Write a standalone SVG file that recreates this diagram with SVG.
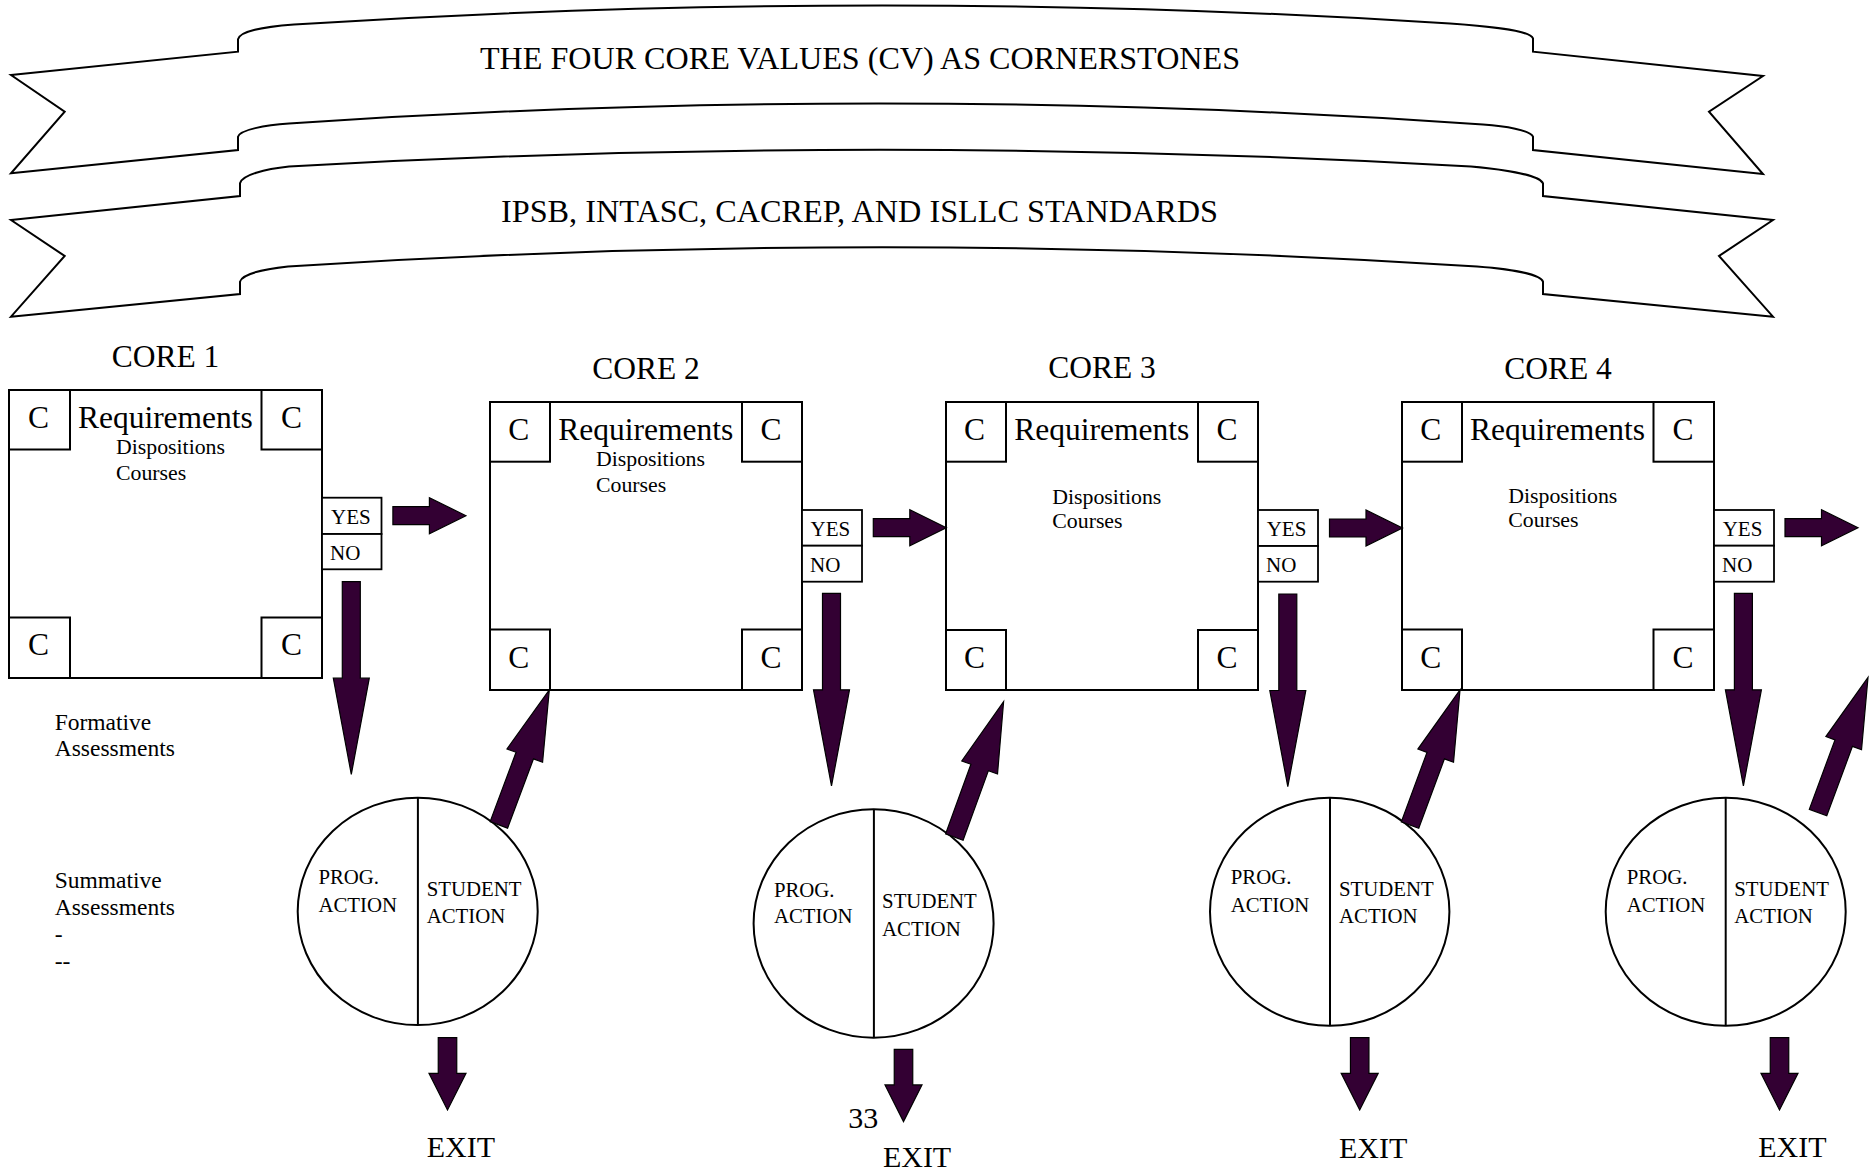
<svg xmlns="http://www.w3.org/2000/svg" xmlns:xlink="http://www.w3.org/1999/xlink" width="1873" height="1172" viewBox="0 0 1873 1172">
<style>
.bg{fill:#fff}
.ban{fill:#fff;stroke:#000;stroke-width:2;stroke-linejoin:miter}
.box{fill:#fff;stroke:#000;stroke-width:2}
.sq{fill:none;stroke:#000;stroke-width:2}
.yn{fill:#fff;stroke:#000;stroke-width:1.8}
.cir{fill:#fff;stroke:#000;stroke-width:2}
.div{stroke:#000;stroke-width:2}
.arr{fill:#330033;stroke:#000;stroke-width:1.2;stroke-linejoin:miter}
text{font-family:"Liberation Serif","Times New Roman",serif;fill:#000}
.bt{font-size:31.7px}
.big{font-size:31.5px}
.sm{font-size:21.8px}
.ynt{font-size:21px}
.ct{font-size:20.8px}
.side{font-size:23.5px}
.ex{font-size:30px}
</style>
<defs>
<polygon id="upArrow" class="arr" points="0,0 19,70 9.3,70 9.3,144 -9.3,144 -9.3,70 -19,70"/>
<polygon id="noArrow" class="arr" points="-9,0 9,0 9,96.5 18,96.5 0,192.7 -18,96.5 -9,96.5"/>
<polygon id="yesArrow" class="arr" points="0,-9 36.5,-9 36.5,-18 73,0 36.5,18 36.5,9 0,9"/>
<polygon id="exitArrow" class="arr" points="-9.25,0 9.25,0 9.25,35.6 18.5,35.6 0,72.3 -18.5,35.6 -9.25,35.6"/>
</defs>
<rect class="bg" x="0" y="0" width="1873" height="1172"/>

<g id="banner-core-values">
<path class="ban" d="M 11,75 L 238,51.7 L 238,39.3 C 240,31 262,27 294,24.5 Q 877,-13 1450,23.5 C 1500,27 1530,31 1533,38.3 L 1533,51.7 L 1763,76 L 1709,111.7 L 1763,174 L 1533,150 L 1533,136.7 C 1530,130 1505,126 1483,124.5 Q 886,83 289,123.5 C 265,125 240,130 238,136.7 L 238,150 L 11,173.3 L 64.7,111.7 Z"/>
<text class="bt" x="480" y="69" textLength="760" lengthAdjust="spacingAndGlyphs">THE FOUR CORE VALUES (CV) AS CORNERSTONES</text>
</g>

<g id="banner-standards">
<path class="ban" d="M 11,220 L 240,196 L 240,183.3 C 242,175 265,169 289,166.5 Q 880,133 1471,166.5 C 1510,170 1540,176 1543,183.3 L 1543,196 L 1773,220 L 1719,256 L 1773,316.7 L 1543,294 L 1543,281.7 C 1540,274 1510,269 1477,266.5 Q 882,228 288,266.5 C 265,269 242,274 240,281.7 L 240,294 L 11,316.7 L 64.7,256 Z"/>
<text class="bt" x="501" y="221.7" textLength="717" lengthAdjust="spacingAndGlyphs">IPSB, INTASC, CACREP, AND ISLLC STANDARDS</text>
</g>

<g id="core1">
<text class="big" x="165.5" y="366.7" text-anchor="middle">CORE 1</text>
<rect class="box" x="9" y="390" width="313" height="288"/>
<rect class="sq" x="9" y="390" width="61" height="59.5"/>
<rect class="sq" x="261.5" y="390" width="60.5" height="59.5"/>
<rect class="sq" x="9" y="617.5" width="61" height="60.5"/>
<rect class="sq" x="261.5" y="617.5" width="60.5" height="60.5"/>
<text class="big" x="38.5" y="428" text-anchor="middle">C</text>
<text class="big" x="291.5" y="428" text-anchor="middle">C</text>
<text class="big" x="38.5" y="655" text-anchor="middle">C</text>
<text class="big" x="291.5" y="655" text-anchor="middle">C</text>
<text class="big" x="77.9" y="428">Requirements</text>
<text class="sm" x="116" y="454.3">Dispositions</text>
<text class="sm" x="116" y="480">Courses</text>
<rect class="yn" x="322" y="497.7" width="59.5" height="36.3"/>
<rect class="yn" x="322" y="534" width="59.5" height="35.3"/>
<text class="ynt" x="331" y="524.3">YES</text>
<text class="ynt" x="330" y="560">NO</text>
</g>

<g id="core2">
<text class="big" x="646" y="378.5" text-anchor="middle">CORE 2</text>
<rect class="box" x="490" y="402" width="312" height="288"/>
<rect class="sq" x="490" y="402" width="60" height="59.7"/>
<rect class="sq" x="742" y="402" width="60" height="59.7"/>
<rect class="sq" x="490" y="629.5" width="60" height="60.5"/>
<rect class="sq" x="742" y="629.5" width="60" height="60.5"/>
<text class="big" x="518.8" y="440" text-anchor="middle">C</text>
<text class="big" x="771" y="440" text-anchor="middle">C</text>
<text class="big" x="518.8" y="668" text-anchor="middle">C</text>
<text class="big" x="771" y="668" text-anchor="middle">C</text>
<text class="big" x="558.3" y="440">Requirements</text>
<text class="sm" x="596" y="466">Dispositions</text>
<text class="sm" x="596" y="491.7">Courses</text>
<rect class="yn" x="802" y="510" width="60" height="35.7"/>
<rect class="yn" x="802" y="545.7" width="60" height="36"/>
<text class="ynt" x="810.5" y="536">YES</text>
<text class="ynt" x="810" y="571.7">NO</text>
</g>

<g id="core3">
<text class="big" x="1102" y="378.3" text-anchor="middle">CORE 3</text>
<rect class="box" x="946" y="402" width="312" height="288"/>
<rect class="sq" x="946" y="402" width="60" height="59.7"/>
<rect class="sq" x="1198" y="402" width="60" height="59.7"/>
<rect class="sq" x="946" y="630" width="60" height="60"/>
<rect class="sq" x="1198" y="630" width="60" height="60"/>
<text class="big" x="974.6" y="440" text-anchor="middle">C</text>
<text class="big" x="1227" y="440" text-anchor="middle">C</text>
<text class="big" x="974.6" y="668" text-anchor="middle">C</text>
<text class="big" x="1227" y="668" text-anchor="middle">C</text>
<text class="big" x="1014.3" y="440">Requirements</text>
<text class="sm" x="1052.3" y="504">Dispositions</text>
<text class="sm" x="1052.3" y="527.7">Courses</text>
<rect class="yn" x="1258" y="510" width="60" height="36"/>
<rect class="yn" x="1258" y="546" width="60" height="35.7"/>
<text class="ynt" x="1266.7" y="536">YES</text>
<text class="ynt" x="1266" y="571.7">NO</text>
</g>

<g id="core4">
<text class="big" x="1558" y="378.5" text-anchor="middle">CORE 4</text>
<rect class="box" x="1402" y="402" width="312" height="288"/>
<rect class="sq" x="1402" y="402" width="60" height="59.7"/>
<rect class="sq" x="1653.5" y="402" width="60.5" height="59.7"/>
<rect class="sq" x="1402" y="629.5" width="60" height="60.5"/>
<rect class="sq" x="1653.5" y="629.5" width="60.5" height="60.5"/>
<text class="big" x="1430.8" y="440" text-anchor="middle">C</text>
<text class="big" x="1683" y="440" text-anchor="middle">C</text>
<text class="big" x="1430.8" y="668" text-anchor="middle">C</text>
<text class="big" x="1683" y="668" text-anchor="middle">C</text>
<text class="big" x="1470" y="440">Requirements</text>
<text class="sm" x="1508.3" y="503.3">Dispositions</text>
<text class="sm" x="1508.3" y="526.7">Courses</text>
<rect class="yn" x="1714" y="510" width="60" height="35.7"/>
<rect class="yn" x="1714" y="545.7" width="60" height="36"/>
<text class="ynt" x="1722.7" y="536">YES</text>
<text class="ynt" x="1722" y="571.7">NO</text>
</g>

<g id="assessment-labels">
<text class="side" x="54.7" y="730">Formative</text>
<text class="side" x="54.7" y="755.7">Assessments</text>
<text class="side" x="54.7" y="888.3">Summative</text>
<text class="side" x="54.7" y="915">Assessments</text>
<text class="side" x="54.7" y="941.5">-</text>
<text class="side" x="54.7" y="969">--</text>
</g>

<g id="action1">
<ellipse class="cir" cx="417.7" cy="911.4" rx="120" ry="113.7"/>
<line class="div" x1="417.9" y1="797.7" x2="417.9" y2="1025.1"/>
<text class="ct" x="318.4" y="884.3">PROG.</text>
<text class="ct" x="318.4" y="911.7">ACTION</text>
<text class="ct" x="426.7" y="896">STUDENT</text>
<text class="ct" x="426.7" y="923.3">ACTION</text>
</g>

<g id="action2">
<ellipse class="cir" cx="873.6" cy="923.5" rx="120" ry="114.2"/>
<line class="div" x1="873.9" y1="809.3" x2="873.9" y2="1037.7"/>
<text class="ct" x="773.9" y="896.7">PROG.</text>
<text class="ct" x="773.9" y="923.3">ACTION</text>
<text class="ct" x="882.1" y="908.3">STUDENT</text>
<text class="ct" x="882.1" y="936">ACTION</text>
</g>

<g id="action3">
<ellipse class="cir" cx="1329.7" cy="911.7" rx="119.7" ry="114"/>
<line class="div" x1="1330" y1="797.7" x2="1330" y2="1025.7"/>
<text class="ct" x="1230.7" y="884">PROG.</text>
<text class="ct" x="1230.7" y="911.7">ACTION</text>
<text class="ct" x="1339" y="896">STUDENT</text>
<text class="ct" x="1339" y="923.3">ACTION</text>
</g>

<g id="action4">
<ellipse class="cir" cx="1725.7" cy="911.7" rx="120" ry="114"/>
<line class="div" x1="1725.7" y1="797.7" x2="1725.7" y2="1025.7"/>
<text class="ct" x="1626.7" y="884">PROG.</text>
<text class="ct" x="1626.7" y="911.7">ACTION</text>
<text class="ct" x="1734.3" y="896">STUDENT</text>
<text class="ct" x="1734.3" y="923.3">ACTION</text>
</g>

<g id="exits">
<text class="ex" x="426.7" y="1156.7">EXIT</text>
<text class="ex" x="848.2" y="1127.7">33</text>
<text class="ex" x="882.9" y="1166.7">EXIT</text>
<text class="ex" x="1339" y="1157.7">EXIT</text>
<text class="ex" x="1758.3" y="1156.7">EXIT</text>
</g>

<g id="connectors">
<use xlink:href="#yesArrow" href="#yesArrow" transform="translate(392.9,515.7)"/>
<use xlink:href="#yesArrow" href="#yesArrow" transform="translate(873.3,527.7)"/>
<use xlink:href="#yesArrow" href="#yesArrow" transform="translate(1329.5,528)"/>
<use xlink:href="#yesArrow" href="#yesArrow" transform="translate(1785,527.7)"/>

<use xlink:href="#noArrow" href="#noArrow" transform="translate(351.3,581.7)"/>
<use xlink:href="#noArrow" href="#noArrow" transform="translate(831.5,593.3)"/>
<use xlink:href="#noArrow" href="#noArrow" transform="translate(1287.8,594)"/>
<use xlink:href="#noArrow" href="#noArrow" transform="translate(1743.4,593.3)"/>

<use xlink:href="#upArrow" href="#upArrow" transform="translate(549.3,690) rotate(20.5)"/>
<use xlink:href="#upArrow" href="#upArrow" transform="translate(1003.6,701.7) rotate(20)"/>
<use xlink:href="#upArrow" href="#upArrow" transform="translate(1460,690) rotate(20.3)"/>
<use xlink:href="#upArrow" href="#upArrow" transform="translate(1868,677.5) rotate(20.3)"/>

<use xlink:href="#exitArrow" href="#exitArrow" transform="translate(447.5,1037.7)"/>
<use xlink:href="#exitArrow" href="#exitArrow" transform="translate(903.5,1049.3)"/>
<use xlink:href="#exitArrow" href="#exitArrow" transform="translate(1359.7,1037.7)"/>
<use xlink:href="#exitArrow" href="#exitArrow" transform="translate(1779.5,1037.7)"/>
</g>
</svg>
